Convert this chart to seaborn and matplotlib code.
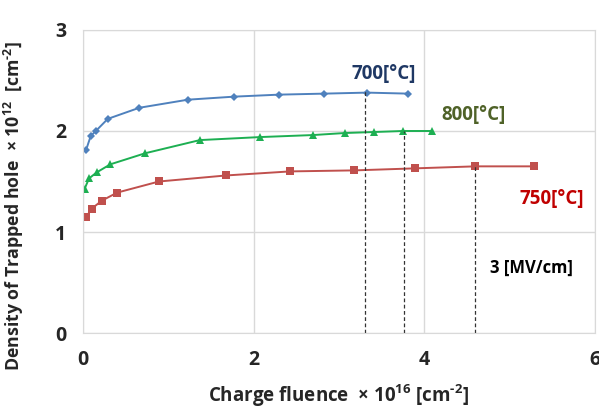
import matplotlib.pyplot as plt
import seaborn as sns
import pandas as pd

# данные
x_700 = [0.035, 0.09, 0.15, 0.29, 0.66, 1.23, 1.77, 2.30, 2.83, 3.33, 3.81]
y_700 = [1.81, 1.95, 2.00, 2.12, 2.23, 2.31, 2.34, 2.36, 2.37, 2.38, 2.37]

x_800 = [0.02, 0.07, 0.16, 0.32, 0.73, 1.37, 2.08, 2.70, 3.07, 3.41, 3.75, 4.09]
y_800 = [1.43, 1.53, 1.59, 1.67, 1.78, 1.91, 1.94, 1.96, 1.98, 1.99, 2.00, 2.00]

x_750 = [0.04, 0.10, 0.22, 0.40, 0.89, 1.68, 2.43, 3.18, 3.89, 4.60, 5.29]
y_750 = [1.15, 1.23, 1.31, 1.39, 1.50, 1.56, 1.60, 1.61, 1.63, 1.65, 1.65]

# пунктирные вертикали: (x, до какого значения)
drop_x = [3.30, 3.76, 4.60]
drop_y = [2.40, 2.00, 1.65]

sns.set_style("white")
plt.rcParams['font.family'] = ['Open Sans', 'DejaVu Sans']
plt.rcParams['mathtext.fontset'] = 'custom'
plt.rcParams['mathtext.rm'] = 'Open Sans:bold'
plt.rcParams['mathtext.it'] = 'Open Sans:bold'
plt.rcParams['mathtext.bf'] = 'Open Sans:bold'

fig = plt.figure(figsize=(5.99, 4.08), dpi=100)
ax = fig.add_axes([0.1386, 0.1838, 0.8544, 0.7427])

series = [
    (x_700, y_700, '#4F81BD', 'D', 4),
    (x_800, y_800, '#1DAF52', '^', 6),
    (x_750, y_750, '#C0504D', 's', 5.5),
]
for xs, ys, col, mk, ms in series:
    df = pd.DataFrame({'x': xs, 'y': ys})
    sns.lineplot(data=df, x='x', y='y', ax=ax, color=col, marker=mk,
                 markersize=ms, markeredgewidth=0, linewidth=1.4, sort=False)

for xv, yv in zip(drop_x, drop_y):
    ax.plot([xv, xv], [0, yv], color='#333333', linestyle=(0, (3, 2)), linewidth=0.9)

ax.set_xlim(0, 6)
ax.set_ylim(0, 3)
ax.set_xticks([0, 2, 4, 6])
ax.set_yticks([0, 1, 2, 3])
ax.grid(True, color='#D9D9D9', linewidth=1)
for s in ax.spines.values():
    s.set_color('#D9D9D9')
ax.tick_params(length=0, labelsize=14)
ax.tick_params(axis='x', pad=12)
ax.tick_params(axis='y', pad=12)
for lbl in ax.get_xticklabels() + ax.get_yticklabels():
    lbl.set_fontweight('bold')

ax.set_xlabel('Charge fluence  × 10$^{16}$ [cm$^{\\text{-}2}$]', fontsize=13.5,
              fontweight='bold', labelpad=9)
ax.set_ylabel('Density of Trapped hole  × 10$^{12}$  [cm$^{\\text{-}2}$]', fontsize=12.8,
              fontweight='bold')
ax.yaxis.set_label_coords(-0.112, 0.42)

ax.text(3.15, 2.51, '700[°C]', color='#1F3864', fontsize=13.5, fontweight='bold')
ax.text(4.2, 2.11, '800[°C]', color='#4F6228', fontsize=13.5, fontweight='bold')
ax.text(5.12, 1.28, '750[°C]', color='#C00000', fontsize=13.5, fontweight='bold')
ax.text(5.74, 0.60, '3 [MV/cm]', color='black', fontsize=12, fontweight='bold',
        ha='right')

fig.savefig('out.png', dpi=100)
